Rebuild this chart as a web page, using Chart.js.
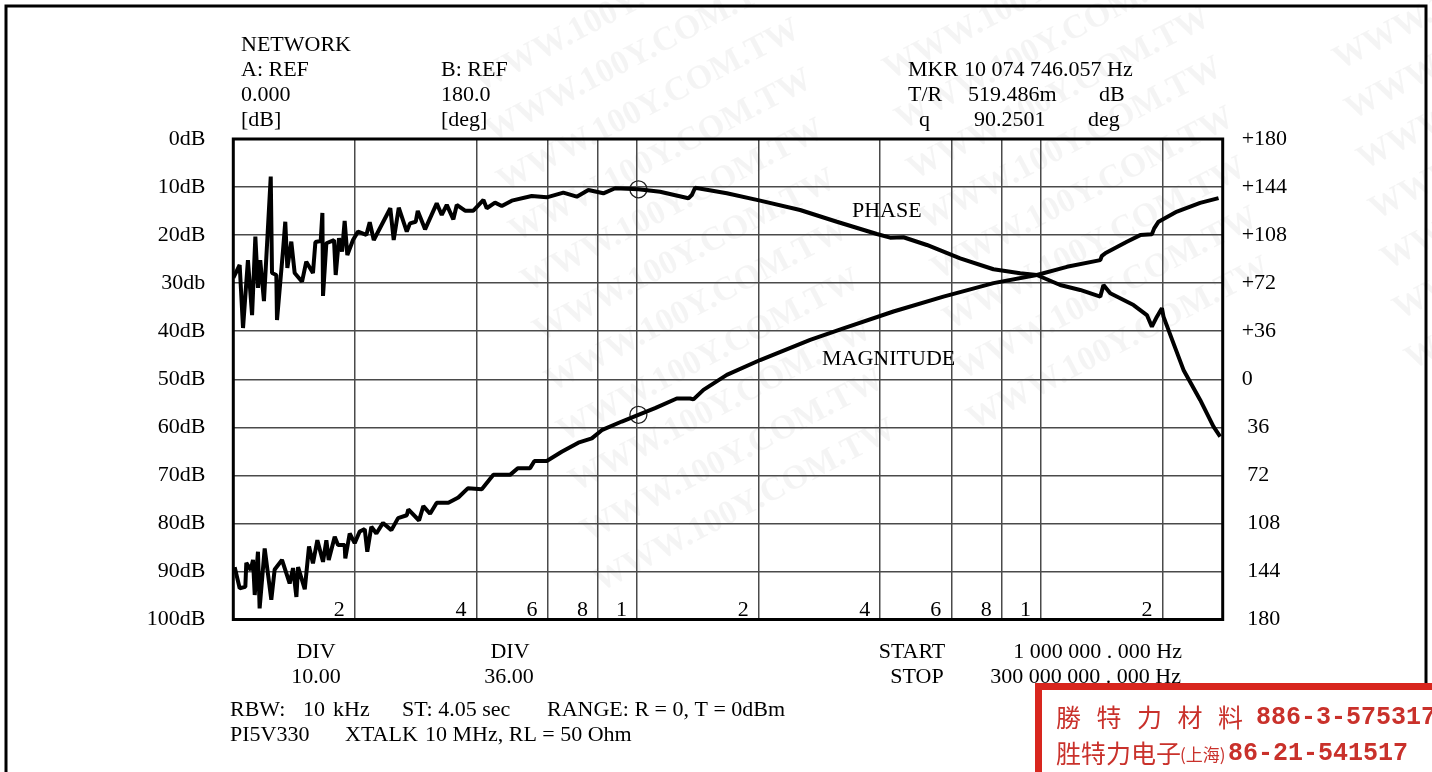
<!doctype html>
<html>
<head>
<meta charset="utf-8">
<title>PI5V330 XTALK 10 MHz</title>
<script src="https://cdn.jsdelivr.net/npm/chart.js"></script>
<style>
    html, body { margin: 0; padding: 0; background: #fff; }
    #wrap { width: 1432px; height: 772px; }
</style>
</head>
<body>
<div id="wrap"><canvas id="chart" width="1432" height="772"></canvas></div>

<script>
    // Crosstalk sweep, frequency in MHz (log axis 1 .. ~300 MHz)
    // magnitude read against the left axis (dB, 0 at top), phase against the right axis (deg)
    var magnitudeData = [
        [1.008, 89.1], [1.037, 93.5], [1.071, 93.2], [1.077, 88.2], [1.104, 89.7], [1.119, 87.6],
        [1.130, 94.9], [1.151, 85.9], [1.162, 97.7], [1.196, 85.2], [1.242, 95.9], [1.266, 89.6],
        [1.320, 87.6], [1.379, 92.5], [1.406, 89.3], [1.433, 95.3], [1.447, 89.1], [1.503, 93.7],
        [1.540, 84.8], [1.575, 88.3], [1.615, 83.5], [1.668, 88.0], [1.700, 83.5], [1.723, 87.6],
        [1.783, 82.8], [1.817, 84.5], [1.887, 84.5], [1.894, 87.3], [1.942, 82.1], [1.998, 84.1],
        [2.056, 81.7], [2.116, 81.2], [2.147, 85.9], [2.197, 80.7], [2.261, 82.1], [2.348, 79.9],
        [2.463, 81.4], [2.559, 78.9], [2.689, 78.3], [2.713, 77.1], [2.884, 79.4], [2.955, 76.4],
        [3.071, 78.0], [3.190, 75.7], [3.409, 75.7], [3.608, 74.6], [3.808, 72.7], [4.124, 72.9],
        [4.406, 69.9], [4.846, 69.9], [5.064, 68.5], [5.432, 68.5], [5.568, 67.0], [5.975, 67.0],
        [6.507, 65.1], [7.153, 63.2], [7.724, 62.3], [8.175, 60.6], [9.165, 58.8], [10.07, 57.4],
        [11.08, 56.0], [12.54, 54.0], [13.53, 54.0], [13.79, 54.2], [14.60, 52.2], [16.68, 49.1],
        [20.17, 46.0], [26.83, 41.8], [32.43, 39.4], [43.14, 35.9], [57.37, 32.8], [76.30, 30.0],
        [97.7, 28.3], [116.0, 26.6], [140.3, 25.2], [141.6, 24.3], [144.3, 23.8], [163.3, 21.4],
        [176.2, 20.0], [188.3, 19.8], [190.8, 18.6], [195.6, 17.2], [217.3, 15.1], [248.0, 13.3],
        [275.4, 12.3]
    ];

    var phaseData = [
        [1.000, 75.9], [1.037, 85.6], [1.057, 38.4], [1.087, 89.3], [1.113, 48.1], [1.134, 106.8],
        [1.151, 68.4], [1.166, 89.3], [1.191, 58.6], [1.238, 151.8], [1.247, 79.6], [1.278, 78.1],
        [1.283, 44.4], [1.328, 96.8], [1.345, 118.0], [1.361, 83.4], [1.392, 103.1], [1.419, 79.6],
        [1.480, 73.1], [1.516, 88.1], [1.575, 79.6], [1.597, 102.8], [1.646, 103.6], [1.662, 124.6],
        [1.668, 62.4], [1.700, 101.9], [1.776, 104.3], [1.793, 78.1], [1.827, 105.6], [1.859, 95.6],
        [1.887, 118.6], [1.916, 93.1], [1.979, 104.3], [2.036, 110.6], [2.135, 108.1], [2.177, 117.6],
        [2.228, 104.3], [2.448, 128.1], [2.496, 104.3], [2.569, 128.5], [2.689, 110.6], [2.739, 116.8],
        [2.830, 118.0], [2.863, 126.1], [2.985, 112.3], [3.190, 131.8], [3.283, 123.1], [3.378, 130.6],
        [3.507, 119.8], [3.576, 130.6], [3.749, 126.3], [3.931, 126.3], [4.164, 134.3], [4.243, 128.1],
        [4.448, 132.3], [4.622, 129.8], [4.894, 133.8], [5.483, 137.3], [5.975, 136.3], [6.567, 139.8],
        [7.088, 136.8], [7.575, 141.8], [8.250, 139.3], [8.822, 143.1], [10.07, 142.3], [11.40, 140.5],
        [13.40, 135.6], [13.66, 138.0], [13.92, 143.5], [16.68, 139.3], [20.17, 133.8], [25.33, 126.8],
        [31.24, 118.0], [39.25, 108.8], [42.33, 106.1], [45.66, 106.4], [52.20, 100.6], [63.10, 90.6],
        [76.30, 82.4], [88.86, 79.4], [97.7, 78.1], [111.6, 70.6], [125.1, 66.9], [140.3, 61.9],
        [142.9, 70.6], [148.5, 64.4], [169.6, 55.6], [183.0, 48.1], [188.3, 39.4], [193.8, 46.9],
        [199.4, 53.2], [201.2, 46.9], [213.0, 26.9], [225.5, 7.0], [248.0, -15.5], [267.6, -35.5],
        [278.0, -43.0]
    ];

    // marker (MKR 10 074 746.057 Hz)
    var markerFreq = 10.0747;
    var markerDb = 57.4, markerDeg = 142.3;

    // axes
    var gridFreqs  = [2, 4, 6, 8, 10, 20, 40, 60, 80, 100, 200];
    var freqLabels = ['2', '4', '6', '8', '1', '2', '4', '6', '8', '1', '2'];
    var freqMin = 1, freqMax = 282;

    var SERIF = '"Liberation Serif", "Times New Roman", serif';

    function pts(arr) {
        return arr.map(function (p) { return { x: p[0], y: p[1] }; });
    }

    function txt(ctx, s, x, y, align) {
        ctx.textAlign = align || 'left';
        ctx.fillText(s, x, y);
    }

    // faint diagonal site watermark of the scanned sheet
    function watermark(ctx) {
        var groups = [[480, 92, 11], [890, 80, 8], [1340, 70, 7]];
        ctx.save();
        ctx.font = 'bold 34px ' + SERIF;
        ctx.fillStyle = 'rgba(0,0,0,0.045)';
        ctx.textAlign = 'left';
        ctx.textBaseline = 'alphabetic';
        groups.forEach(function (g) {
            for (var i = 0; i < g[2]; i++) {
                ctx.save();
                ctx.translate(g[0] + i * 12, g[1] + i * 50);
                ctx.rotate(-Math.PI / 6.5);
                ctx.fillText('WWW.100Y.COM.TW', 0, 0);
                ctx.restore();
            }
        });
        ctx.restore();
    }

    // paper: frame, annotation texts, watermark, stamp
    var paperPlugin = {
        id: 'paper',
        beforeDraw: function (chart) {
            var ctx = chart.ctx;
            ctx.save();
            ctx.fillStyle = '#fff';
            ctx.fillRect(0, 0, chart.width, chart.height);
            ctx.restore();
            watermark(ctx);
        },
        afterDraw: function (chart) {
            var ctx = chart.ctx, a = chart.chartArea, xs = chart.scales.x;
            ctx.save();

            // plot frame
            ctx.strokeStyle = '#000';
            ctx.lineWidth = 3;
            ctx.strokeRect(a.left, a.top, a.right - a.left, a.bottom - a.top);

            ctx.fillStyle = '#000';
            ctx.font = '22px ' + SERIF;
            ctx.textBaseline = 'alphabetic';

            // decade digits inside the plot, just left of each grid line
            gridFreqs.forEach(function (f, i) {
                txt(ctx, freqLabels[i], xs.getPixelForValue(f) - 10, a.bottom - 4, 'right');
            });

            // header block
            txt(ctx, 'NETWORK', 241, 51);
            txt(ctx, 'A: REF', 241, 76);   txt(ctx, 'B: REF', 441, 76);
            txt(ctx, '0.000', 241, 101);   txt(ctx, '180.0', 441, 101);
            txt(ctx, '[dB]', 241, 126);    txt(ctx, '[deg]', 441, 126);

            txt(ctx, 'MKR', 908, 76);      txt(ctx, '10 074 746.057 Hz', 964, 76);
            txt(ctx, 'T/R', 908, 101);     txt(ctx, '519.486m', 968, 101);  txt(ctx, 'dB', 1099, 101);
            txt(ctx, 'q', 919, 126);       txt(ctx, '90.2501', 974, 126);   txt(ctx, 'deg', 1088, 126);

            // curve names
            txt(ctx, 'PHASE', 852, 217);
            txt(ctx, 'MAGNITUDE', 822, 365);

            // footer
            txt(ctx, 'DIV', 316, 658, 'center');   txt(ctx, '10.00', 316, 683, 'center');
            txt(ctx, 'DIV', 510, 658, 'center');   txt(ctx, '36.00', 509, 683, 'center');
            txt(ctx, 'START', 912, 658, 'center'); txt(ctx, '1 000 000 . 000 Hz', 1182, 658, 'right');
            txt(ctx, 'STOP', 917, 683, 'center');  txt(ctx, '300 000 000 . 000 Hz', 1181, 683, 'right');

            txt(ctx, 'RBW:', 230, 716);
            txt(ctx, '10', 303, 716);
            txt(ctx, 'kHz', 333, 716);
            txt(ctx, 'ST: 4.05 sec', 402, 716);
            txt(ctx, 'RANGE: R = 0, T = 0dBm', 547, 716);
            txt(ctx, 'PI5V330', 230, 741);
            txt(ctx, 'XTALK', 345, 741);
            txt(ctx, '10 MHz, RL = 50 Ohm', 425, 741);

            // page border
            ctx.lineWidth = 3;
            ctx.strokeRect(6, 6, 1420, 800);

            // red stamp, bottom right
            ctx.fillStyle = '#fff';
            ctx.fillRect(1035, 683, 400, 90);
            ctx.strokeStyle = '#d8261e';
            ctx.lineWidth = 7;
            ctx.strokeRect(1038.5, 686.5, 420, 120);

            ctx.fillStyle = '#c9312b';
            ctx.textBaseline = 'middle';
            ctx.font = '25px "Noto Sans CJK TC", "Noto Sans CJK SC", sans-serif';
            ['勝', '特', '力', '材', '料'].forEach(function (c, i) {
                txt(ctx, c, 1056 + i * 40.5, 717);
            });
            txt(ctx, '胜特力电子', 1056, 753);
            ctx.font = '17px "Noto Sans CJK SC", sans-serif';
            txt(ctx, '(上海)', 1180, 755);
            ctx.font = 'bold 25px "Liberation Mono", "DejaVu Sans Mono", monospace';
            txt(ctx, '886-3-575317', 1256, 718);
            txt(ctx, '86-21-541517', 1228, 754);

            ctx.restore();
        }
    };

    var ctx = document.getElementById('chart').getContext('2d');
    Chart.defaults.font.family = SERIF;

    var chart = new Chart(ctx, {
        type: 'line',
        data: {
            datasets: [
                {
                    label: 'MAGNITUDE',
                    data: pts(magnitudeData),
                    yAxisID: 'y',
                    borderColor: '#000',
                    borderWidth: 4,
                    borderJoinStyle: 'bevel',
                    pointRadius: 0,
                    tension: 0
                },
                {
                    label: 'PHASE',
                    data: pts(phaseData),
                    yAxisID: 'y2',
                    borderColor: '#000',
                    borderWidth: 4,
                    borderJoinStyle: 'bevel',
                    pointRadius: 0,
                    tension: 0
                },
                {
                    label: 'MKR magnitude',
                    data: [{ x: markerFreq, y: markerDb }],
                    yAxisID: 'y',
                    showLine: false,
                    pointStyle: 'circle',
                    pointRadius: 8.5,
                    pointBorderWidth: 1.3,
                    pointBorderColor: '#222',
                    pointBackgroundColor: 'rgba(0,0,0,0)'
                },
                {
                    label: 'MKR phase',
                    data: [{ x: markerFreq, y: markerDeg }],
                    yAxisID: 'y2',
                    showLine: false,
                    pointStyle: 'circle',
                    pointRadius: 8.5,
                    pointBorderWidth: 1.3,
                    pointBorderColor: '#222',
                    pointBackgroundColor: 'rgba(0,0,0,0)'
                }
            ]
        },
        options: {
            responsive: false,
            animation: false,
            devicePixelRatio: 1,
            layout: { padding: { left: 120, right: 119.3, top: 139, bottom: 152.5 } },
            plugins: {
                legend: { display: false },
                tooltip: { enabled: false }
            },
            scales: {
                x: {
                    type: 'logarithmic',
                    position: 'bottom',
                    min: freqMin,
                    max: freqMax,
                    afterBuildTicks: function (s) {
                        s.ticks = gridFreqs.map(function (v) { return { value: v }; });
                    },
                    afterFit: function (s) { s.height = 0; },
                    grid: { color: '#4a4a4a', lineWidth: 1.5, drawTicks: false },
                    border: { display: false },
                    ticks: { display: false }
                },
                y: {
                    position: 'left',
                    reverse: true,
                    min: 0,
                    max: 100,
                    afterFit: function (s) { s.width = 113.3; },
                    grid: { color: '#4a4a4a', lineWidth: 1.5, drawTicks: false },
                    border: { display: false },
                    ticks: {
                        stepSize: 10,
                        padding: 28,
                        color: '#000',
                        font: { size: 22, family: SERIF },
                        callback: function (v) { return v === 30 ? '30db' : v + 'dB'; }
                    }
                },
                y2: {
                    position: 'right',
                    min: -180,
                    max: 180,
                    afterFit: function (s) { s.width = 90; },
                    grid: { drawOnChartArea: false, drawTicks: false },
                    border: { display: false },
                    ticks: {
                        stepSize: 36,
                        padding: 19,
                        color: '#000',
                        font: { size: 22, family: SERIF },
                        callback: function (v) {
                            if (v > 0) return '+' + v;
                            if (v === 0) return '0';
                            return ' ' + (-v);
                        }
                    }
                }
            }
        },
        plugins: [paperPlugin]
    });
</script>
</body>
</html>
